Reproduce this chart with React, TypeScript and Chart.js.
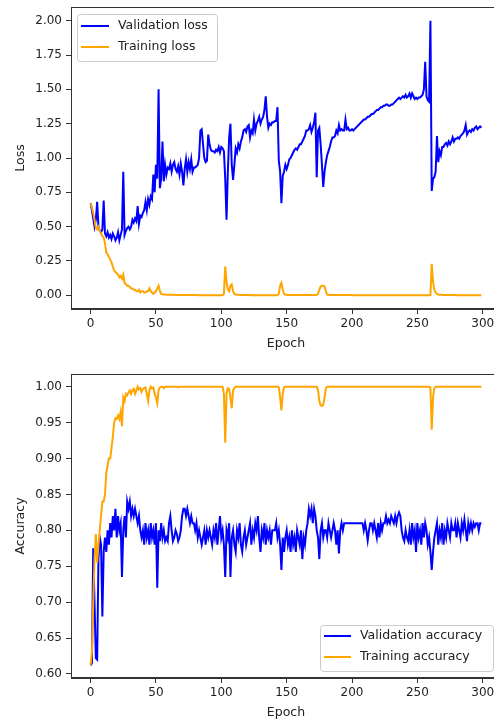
import React, { useEffect, useRef } from "react";
import { Chart, registerables } from "chart.js";

Chart.register(...registerables);

// ---------- data ----------
const epochTicks = [0, 50, 100, 150, 200, 250, 300];
const lossTicks = [0, 0.25, 0.5, 0.75, 1.0, 1.25, 1.5, 1.75, 2.0];
const accTicks = [0.6, 0.65, 0.7, 0.75, 0.8, 0.85, 0.9, 0.95, 1.0];

const valLoss = [
  0.67, 0.62, 0.56, 0.5, 0.55, 0.68, 0.5, 0.47, 0.46, 0.48,
  0.69, 0.45, 0.43, 0.46, 0.42, 0.44, 0.41, 0.45, 0.43, 0.4,
  0.42, 0.46, 0.4, 0.44, 0.48, 0.9, 0.44, 0.47, 0.49, 0.5,
  0.48, 0.5, 0.55, 0.53, 0.56, 0.54, 0.65, 0.52, 0.58, 0.57,
  0.6, 0.62, 0.68, 0.62, 0.7, 0.66, 0.72, 0.7, 0.88, 0.75,
  0.95, 0.85, 1.5, 0.78, 0.85, 1.12, 0.83, 0.95, 0.88, 0.93,
  0.92, 0.96, 0.9, 0.95, 0.97, 0.92, 0.9, 0.94, 0.88, 0.96,
  0.9, 0.8, 0.92, 0.99, 0.9, 0.97, 0.92, 0.99, 0.9, 0.93,
  0.93, 0.94, 0.95, 1.0, 1.2, 1.21, 1.1, 1.0, 0.97, 0.98,
  1.17, 1.1, 1.06, 1.05, 1.05, 1.04, 1.06, 1.05, 1.08, 1.04,
  1.08, 1.07, 1.05, 0.85, 0.55, 0.9, 1.15, 1.25, 0.95, 0.84,
  0.95, 1.07, 1.04, 1.1, 1.07, 1.12, 1.15, 1.2, 1.21, 1.19,
  1.23, 1.24, 1.15, 1.2, 1.18, 1.28, 1.2, 1.25, 1.27, 1.3,
  1.25, 1.28, 1.3, 1.35, 1.45, 1.3, 1.22, 1.25, 1.24, 1.26,
  1.26, 1.27, 1.27, 1.37, 0.98, 0.9, 0.67, 0.87, 0.9, 0.95,
  0.92, 0.95, 0.99, 1.0, 1.02, 1.04, 1.06, 1.07, 1.06, 1.08,
  1.1, 1.1, 1.12, 1.14, 1.16, 1.2, 1.2, 1.21, 1.24, 1.19,
  1.22, 1.26, 1.33, 0.86, 1.2, 1.22, 1.1, 0.95, 0.79, 0.9,
  0.97, 1.02, 1.05, 1.08, 1.12, 1.15, 1.15, 1.16, 1.2, 1.18,
  1.24, 1.2, 1.21, 1.2, 1.2, 1.28, 1.21, 1.22, 1.2, 1.2,
  1.21, 1.2, 1.21, 1.22, 1.23, 1.24, 1.25, 1.26, 1.27, 1.28,
  1.28, 1.29, 1.3, 1.3, 1.31, 1.32, 1.32, 1.33, 1.34, 1.35,
  1.35, 1.36, 1.37, 1.37, 1.38, 1.38, 1.39, 1.39, 1.38, 1.38,
  1.39, 1.39, 1.4, 1.41, 1.42, 1.43, 1.44, 1.43, 1.44, 1.45,
  1.44, 1.46, 1.44, 1.45, 1.47, 1.44, 1.47, 1.45, 1.43, 1.44,
  1.43, 1.44, 1.44, 1.45, 1.46, 1.5, 1.7, 1.45, 1.42, 1.41,
  2.0, 0.76, 0.85, 0.86, 0.9, 1.16, 0.97, 1.05, 1.02, 1.08,
  1.08, 1.1, 1.11, 1.09, 1.12, 1.1, 1.12, 1.15, 1.12, 1.14,
  1.14, 1.15, 1.14, 1.16, 1.17, 1.18, 1.2, 1.24, 1.17, 1.19,
  1.2, 1.19, 1.21, 1.2, 1.22, 1.23, 1.21, 1.22, 1.23, 1.22,
];

const trainLoss = [
  0.67, 0.64, 0.6, 0.55, 0.49, 0.48, 0.5, 0.47, 0.45, 0.43,
  0.42, 0.38, 0.31, 0.3, 0.28, 0.26, 0.24, 0.21, 0.18, 0.17,
  0.16, 0.15, 0.13, 0.14, 0.12, 0.15, 0.09, 0.08, 0.07, 0.07,
  0.06, 0.05, 0.05, 0.04, 0.04, 0.03, 0.03, 0.04, 0.02, 0.03,
  0.03, 0.02, 0.02, 0.03, 0.03, 0.05, 0.03, 0.02, 0.01, 0.02,
  0.03, 0.05, 0.07, 0.03, 0.01, 0.008, 0.006, 0.005, 0.004, 0.004,
  0.004, 0.003, 0.003, 0.003, 0.003, 0.002, 0.002, 0.002, 0.002, 0.002,
  0.002, 0.002, 0.002, 0.002, 0.002, 0.002, 0.002, 0.002, 0.002, 0.002,
  0.002, 0.002, 0.001, 0.001, 0.001, 0.001, 0.001, 0.001, 0.001, 0.001,
  0.001, 0.001, 0.001, 0.001, 0.001, 0.001, 0.001, 0.001, 0.001, 0.001,
  0.001, 0.002, 0.01, 0.21, 0.1, 0.04, 0.03, 0.07, 0.08, 0.03,
  0.01, 0.005, 0.004, 0.003, 0.003, 0.002, 0.002, 0.002, 0.002, 0.002,
  0.002, 0.002, 0.002, 0.001, 0.001, 0.001, 0.001, 0.001, 0.001, 0.001,
  0.001, 0.001, 0.001, 0.001, 0.001, 0.001, 0.001, 0.001, 0.001, 0.001,
  0.001, 0.001, 0.001, 0.002, 0.01, 0.07, 0.09, 0.04, 0.01, 0.004,
  0.003, 0.002, 0.002, 0.002, 0.002, 0.002, 0.002, 0.002, 0.002, 0.002,
  0.002, 0.002, 0.002, 0.002, 0.002, 0.002, 0.002, 0.002, 0.002, 0.002,
  0.002, 0.002, 0.002, 0.003, 0.01, 0.04, 0.065, 0.07, 0.07, 0.065,
  0.03, 0.005, 0.003, 0.002, 0.002, 0.002, 0.002, 0.002, 0.002, 0.002,
  0.002, 0.002, 0.002, 0.002, 0.002, 0.002, 0.002, 0.002, 0.002, 0.002,
  0.001, 0.001, 0.001, 0.001, 0.001, 0.001, 0.001, 0.001, 0.001, 0.001,
  0.001, 0.001, 0.001, 0.001, 0.001, 0.001, 0.001, 0.001, 0.001, 0.001,
  0.001, 0.001, 0.001, 0.001, 0.001, 0.001, 0.001, 0.001, 0.001, 0.001,
  0.001, 0.001, 0.001, 0.001, 0.001, 0.001, 0.001, 0.001, 0.001, 0.001,
  0.001, 0.001, 0.001, 0.001, 0.001, 0.001, 0.001, 0.001, 0.001, 0.001,
  0.001, 0.001, 0.001, 0.001, 0.001, 0.001, 0.001, 0.001, 0.001, 0.001,
  0.002, 0.23, 0.1, 0.04, 0.02, 0.01, 0.006, 0.004, 0.003, 0.003,
  0.002, 0.002, 0.002, 0.002, 0.002, 0.002, 0.002, 0.002, 0.002, 0.002,
  0.001, 0.001, 0.001, 0.001, 0.001, 0.001, 0.001, 0.001, 0.001, 0.001,
  0.001, 0.001, 0.001, 0.001, 0.001, 0.001, 0.001, 0.001, 0.001, 0.001,
];

const valAcc = [
  0.612, 0.615, 0.775, 0.7, 0.622, 0.62, 0.76, 0.79, 0.78, 0.68,
  0.77, 0.79, 0.77, 0.8, 0.78, 0.81, 0.79, 0.82, 0.8, 0.83,
  0.79, 0.82, 0.8, 0.81, 0.735, 0.8, 0.82, 0.79, 0.84, 0.83,
  0.84, 0.82, 0.83, 0.82, 0.83, 0.82, 0.81, 0.82, 0.8, 0.79,
  0.8, 0.78, 0.81, 0.79, 0.8, 0.78, 0.81, 0.79, 0.8, 0.78,
  0.81, 0.72, 0.8, 0.785, 0.81, 0.79, 0.8, 0.785, 0.79, 0.785,
  0.81, 0.82, 0.8, 0.785, 0.79, 0.8, 0.795, 0.785, 0.79, 0.8,
  0.82, 0.83, 0.83, 0.82, 0.83, 0.82, 0.81, 0.82, 0.81, 0.81,
  0.8, 0.81, 0.79, 0.8, 0.79, 0.78, 0.79, 0.8, 0.78, 0.8,
  0.79, 0.8, 0.79, 0.78, 0.8, 0.79, 0.81, 0.78, 0.8, 0.82,
  0.79, 0.8, 0.78, 0.735, 0.8, 0.79, 0.81, 0.735, 0.79, 0.8,
  0.78, 0.77, 0.8, 0.79, 0.81, 0.78, 0.77, 0.79, 0.8, 0.78,
  0.79, 0.8, 0.81, 0.78, 0.8, 0.79, 0.81, 0.8, 0.82, 0.79,
  0.77, 0.8, 0.79, 0.81, 0.78, 0.8, 0.79, 0.8, 0.78, 0.8,
  0.8, 0.8, 0.81, 0.79, 0.8, 0.78, 0.745, 0.79, 0.77, 0.79,
  0.8, 0.78, 0.79, 0.77, 0.8, 0.78, 0.79, 0.77, 0.8, 0.79,
  0.78, 0.8, 0.76, 0.79, 0.78, 0.8, 0.81, 0.83, 0.82, 0.83,
  0.81, 0.83, 0.82, 0.8, 0.79, 0.76, 0.8, 0.81, 0.79, 0.8,
  0.8, 0.79, 0.81, 0.8, 0.79, 0.8, 0.81, 0.8, 0.78, 0.8,
  0.768, 0.8, 0.81, 0.8, 0.81, 0.81, 0.81, 0.81, 0.81, 0.81,
  0.81, 0.81, 0.81, 0.81, 0.81, 0.81, 0.81, 0.81, 0.81, 0.8,
  0.81, 0.8, 0.786, 0.8, 0.81, 0.81, 0.8, 0.81, 0.8, 0.79,
  0.81, 0.79, 0.81, 0.8, 0.81, 0.81, 0.82, 0.81, 0.815, 0.81,
  0.82, 0.815, 0.81, 0.82, 0.81, 0.82, 0.825, 0.82, 0.8, 0.79,
  0.785, 0.8, 0.79, 0.785, 0.8, 0.78, 0.81, 0.79, 0.8, 0.77,
  0.81, 0.79, 0.8, 0.78, 0.81, 0.79, 0.81, 0.8, 0.78, 0.79,
  0.77, 0.745, 0.77, 0.79, 0.8, 0.81, 0.78, 0.8, 0.79, 0.81,
  0.78, 0.8, 0.79, 0.81, 0.8, 0.79, 0.81, 0.8, 0.8, 0.81,
  0.79, 0.81, 0.8, 0.79, 0.81, 0.8, 0.815, 0.8, 0.785, 0.81,
  0.8, 0.81, 0.8, 0.81, 0.805, 0.81, 0.81, 0.8, 0.81, 0.81,
];

const trainAcc = [
  0.612, 0.63, 0.7, 0.76, 0.795, 0.755, 0.78, 0.8, 0.82, 0.84,
  0.84, 0.85, 0.88, 0.89, 0.9, 0.9, 0.915, 0.93, 0.95, 0.956,
  0.955, 0.96, 0.955, 0.965, 0.945, 0.985, 0.98, 0.99, 0.988, 0.992,
  0.995, 0.99, 0.995, 0.997, 0.99, 0.995, 1.0, 0.996, 0.998, 0.993,
  0.997, 0.998, 0.999, 0.99, 0.98, 0.995, 1.0, 0.998, 0.999, 0.99,
  0.985, 0.977, 0.995, 0.999, 1.0, 1.0, 0.998, 1.0, 1.0, 1.0,
  1.0, 1.0, 1.0, 1.0, 1.0, 1.0, 1.0, 0.999, 1.0, 1.0,
  1.0, 1.0, 1.0, 1.0, 1.0, 1.0, 1.0, 1.0, 1.0, 1.0,
  1.0, 1.0, 1.0, 1.0, 1.0, 1.0, 1.0, 1.0, 1.0, 1.0,
  1.0, 1.0, 1.0, 1.0, 1.0, 1.0, 1.0, 1.0, 1.0, 1.0,
  1.0, 1.0, 0.99, 0.922, 0.99, 0.998, 0.997, 0.985, 0.97, 0.995,
  0.998, 1.0, 1.0, 1.0, 1.0, 1.0, 1.0, 1.0, 1.0, 1.0,
  1.0, 1.0, 1.0, 1.0, 1.0, 1.0, 1.0, 1.0, 1.0, 1.0,
  1.0, 1.0, 1.0, 1.0, 1.0, 1.0, 1.0, 1.0, 1.0, 1.0,
  1.0, 1.0, 1.0, 1.0, 0.999, 0.985, 0.967, 0.99, 0.999, 1.0,
  1.0, 1.0, 1.0, 1.0, 1.0, 1.0, 1.0, 1.0, 1.0, 1.0,
  1.0, 1.0, 1.0, 1.0, 1.0, 1.0, 1.0, 1.0, 1.0, 1.0,
  1.0, 1.0, 1.0, 1.0, 0.995, 0.98, 0.974, 0.973, 0.975, 0.985,
  0.998, 1.0, 1.0, 1.0, 1.0, 1.0, 1.0, 1.0, 1.0, 1.0,
  1.0, 1.0, 1.0, 1.0, 1.0, 1.0, 1.0, 1.0, 1.0, 1.0,
  1.0, 1.0, 1.0, 1.0, 1.0, 1.0, 1.0, 1.0, 1.0, 1.0,
  1.0, 1.0, 1.0, 1.0, 1.0, 1.0, 1.0, 1.0, 1.0, 1.0,
  1.0, 1.0, 1.0, 1.0, 1.0, 1.0, 1.0, 1.0, 1.0, 1.0,
  1.0, 1.0, 1.0, 1.0, 1.0, 1.0, 1.0, 1.0, 1.0, 1.0,
  1.0, 1.0, 1.0, 1.0, 1.0, 1.0, 1.0, 1.0, 1.0, 1.0,
  1.0, 1.0, 1.0, 1.0, 1.0, 1.0, 1.0, 1.0, 1.0, 1.0,
  0.999, 0.94, 0.985, 0.998, 1.0, 1.0, 1.0, 1.0, 1.0, 1.0,
  1.0, 1.0, 1.0, 1.0, 1.0, 1.0, 1.0, 1.0, 1.0, 1.0,
  1.0, 1.0, 1.0, 1.0, 1.0, 1.0, 1.0, 1.0, 1.0, 1.0,
  1.0, 1.0, 1.0, 1.0, 1.0, 1.0, 1.0, 1.0, 1.0, 1.0,
];

// ---------- styling ----------
const FONT = '"DejaVu Sans", sans-serif';
const TEXT = "#222222";
const AXIS = "#333333";
const BLUE = "#0000ff";
const ORANGE = "#ffa500";

const framePlugin = {
  id: "frame",
  afterDatasetsDraw(chart: any) {
    const { ctx, chartArea } = chart;
    const { left, top, right, bottom } = chartArea;
    ctx.save();
    ctx.strokeStyle = AXIS;
    ctx.lineWidth = 1;
    ctx.strokeRect(Math.round(left) + 0.5, Math.round(top) + 0.5, Math.round(right - left) - 1, Math.round(bottom - top) - 1);
    ctx.restore();
  },
};

const boxLegendPlugin = {
  id: "boxLegend",
  afterDraw(chart: any, _args: any, o: any) {
    if (!o || o.boxW === undefined) return;
    const ctx = chart.ctx;
    ctx.save();
    ctx.beginPath();
    if (ctx.roundRect) ctx.roundRect(o.boxX + 0.5, o.boxY + 0.5, o.boxW, o.boxH, 3);
    else ctx.rect(o.boxX + 0.5, o.boxY + 0.5, o.boxW, o.boxH);
    ctx.fillStyle = "rgba(255,255,255,0.8)";
    ctx.fill();
    ctx.strokeStyle = "#cccccc";
    ctx.lineWidth = 1;
    ctx.stroke();
    const rows = [o.row0, o.row1];
    chart.data.datasets.forEach((ds: any, i: number) => {
      const y = rows[i];
      ctx.beginPath();
      ctx.moveTo(o.lineX0, y);
      ctx.lineTo(o.lineX1, y);
      ctx.strokeStyle = ds.borderColor;
      ctx.lineWidth = 2;
      ctx.stroke();
      ctx.fillStyle = TEXT;
      ctx.font = `12.5px ${FONT}`;
      ctx.textBaseline = "middle";
      ctx.textAlign = "left";
      ctx.fillText(ds.label, o.textX, y);
    });
    ctx.restore();
  },
};

type Series = { label: string; values: number[]; color: string; order: number };

function buildConfig(p: {
  series: Series[];
  yMin: number;
  yMax: number;
  yTicks: number[];
  yTitle: string;
  legend: any;
}): any {
  return {
    type: "line",
    data: {
      datasets: p.series.map((s) => ({
        label: s.label,
        data: s.values.map((v, i) => ({ x: i, y: v })),
        borderColor: s.color,
        backgroundColor: s.color,
        borderWidth: 2,
        pointRadius: 0,
        tension: 0,
        fill: false,
        order: s.order,
      })),
    },
    options: {
      responsive: false,
      animation: false,
      events: [],
      layout: { padding: { top: 7, right: 1, bottom: 0, left: 0 } },
      plugins: {
        legend: { display: false },
        tooltip: { enabled: false },
        boxLegend: p.legend,
      },
      scales: {
        x: {
          type: "linear",
          min: -15,
          max: 314,
          afterBuildTicks: (s: any) => {
            s.ticks = epochTicks.map((v) => ({ value: v }));
          },
          afterFit: (s: any) => {
            s.height = 42;
            s.paddingLeft = 0;
            s.paddingRight = 0;
          },
          grid: { drawOnChartArea: false, drawTicks: true, tickLength: 5, tickColor: AXIS, tickWidth: 1 },
          border: { display: true, color: AXIS, width: 1 },
          ticks: {
            color: TEXT,
            font: { family: FONT, size: 12 },
            padding: 3,
            maxRotation: 0,
            autoSkip: false,
            callback: (v: any) => String(v),
          },
          title: {
            display: true,
            text: "Epoch",
            color: TEXT,
            font: { family: FONT, size: 12.5 },
            padding: { top: 0, bottom: 0 },
          },
        },
        y: {
          type: "linear",
          min: p.yMin,
          max: p.yMax,
          afterBuildTicks: (s: any) => {
            s.ticks = p.yTicks.map((v) => ({ value: v }));
          },
          afterFit: (s: any) => {
            s.width = 71;
            s.paddingTop = 0;
            s.paddingBottom = 0;
          },
          grid: { drawOnChartArea: false, drawTicks: true, tickLength: 5, tickColor: AXIS, tickWidth: 1 },
          border: { display: true, color: AXIS, width: 1 },
          ticks: {
            color: TEXT,
            font: { family: FONT, size: 12 },
            padding: 4,
            autoSkip: false,
            callback: (v: any) => Number(v).toFixed(2),
          },
          title: {
            display: true,
            text: p.yTitle,
            color: TEXT,
            font: { family: FONT, size: 12.5 },
            padding: { top: 13, bottom: 0 },
          },
        },
      },
    },
    plugins: [framePlugin, boxLegendPlugin],
  };
}

function Panel(props: { top: number; height: number; config: any }) {
  const ref = useRef<HTMLCanvasElement | null>(null);
  useEffect(() => {
    if (!ref.current) return;
    const chart = new Chart(ref.current, props.config);
    return () => chart.destroy();
  }, []);
  return (
    <canvas
      ref={ref}
      width={502}
      height={props.height}
      style={{ position: "absolute", left: 0, top: props.top, width: 502, height: props.height }}
    />
  );
}

const lossConfig = buildConfig({
  series: [
    { label: "Validation loss", values: valLoss, color: BLUE, order: 1 },
    { label: "Training loss", values: trainLoss, color: ORANGE, order: 0 },
  ],
  yMin: -0.1,
  yMax: 2.1,
  yTicks: lossTicks,
  yTitle: "Loss",
  legend: { boxX: 77, boxY: 14, boxW: 140, boxH: 47, row0: 26, row1: 47, lineX0: 81, lineX1: 109, textX: 118 },
});

const accConfig = buildConfig({
  series: [
    { label: "Validation accuracy", values: valAcc, color: BLUE, order: 1 },
    { label: "Training accuracy", values: trainAcc, color: ORANGE, order: 0 },
  ],
  yMin: 0.5944,
  yMax: 1.0177,
  yTicks: accTicks,
  yTitle: "Accuracy",
  legend: { boxX: 320, boxY: 258, boxW: 173, boxH: 46, row0: 269, row1: 290, lineX0: 324, lineX1: 351, textX: 360 },
});

export default function App() {
  return (
    <div
      style={{
        position: "absolute",
        left: 0,
        top: 0,
        width: 494,
        height: 722,
        overflow: "hidden",
        background: "#ffffff",
      }}
    >
      <Panel top={0} height={351} config={lossConfig} />
      <Panel top={367} height={353} config={accConfig} />
    </div>
  );
}
